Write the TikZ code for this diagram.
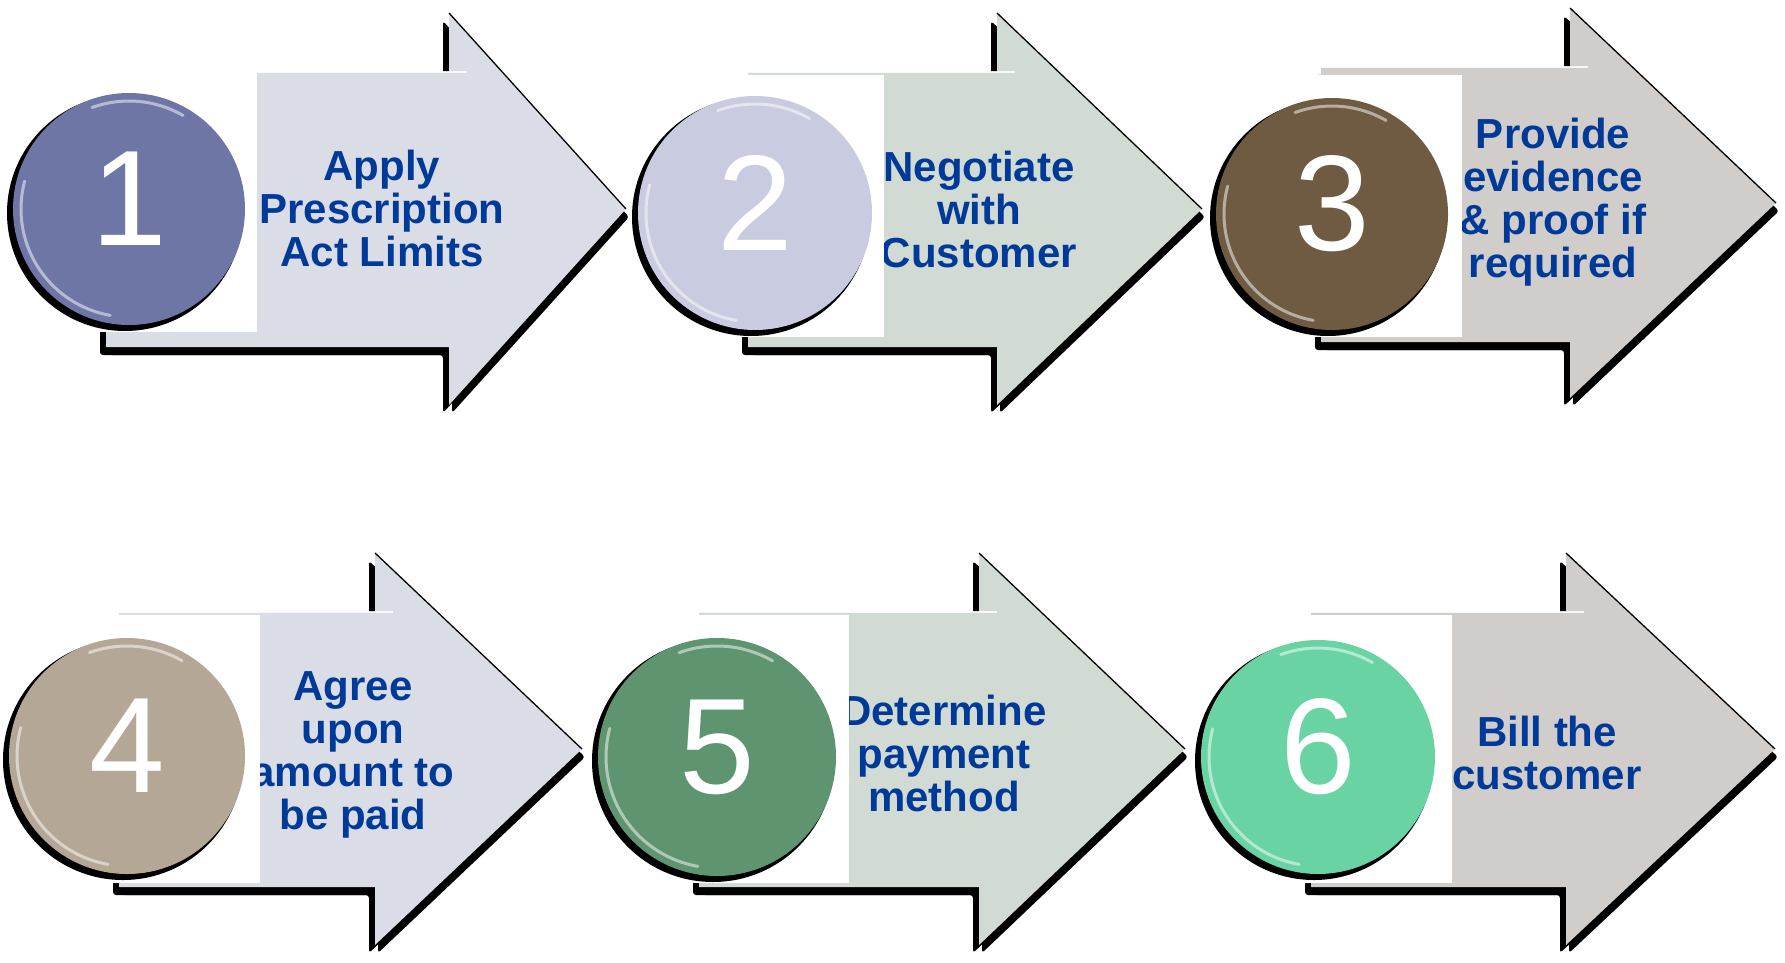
\documentclass[tikz,border=0pt]{standalone}
\usepackage{fontspec}
\setmainfont{Liberation Sans}
\usetikzlibrary{calc}
\definecolor{txtblue}{RGB}{0,58,152}
\definecolor{faceA}{RGB}{218,221,230}
\definecolor{faceB}{RGB}{210,218,212}
\definecolor{faceC}{RGB}{208,205,203}
\definecolor{ballA}{RGB}{110,118,165}
\definecolor{ballB}{RGB}{201,203,224}
\definecolor{ballC}{RGB}{110,91,66}
\definecolor{ballD}{RGB}{181,167,150}
\definecolor{ballE}{RGB}{94,149,112}
\definecolor{ballF}{RGB}{105,211,164}
\tikzset{
  steptext/.style={font=\bfseries\fontsize{42}{43}\selectfont, text=txtblue, align=center, inner sep=0pt},
  digit/.style={font=\fontsize{136}{136}\selectfont, text=white, inner sep=0pt},
  ball/.style={circle, inner sep=0pt, draw=none},
  shade/.style={fill=black},
  toplight/.style={draw=white, line width=2.5pt, opacity=.85},
  diagline/.style={draw=black, line width=1.3pt},
  gloss/.style={draw=white, line width=3pt, opacity=.5, line cap=round},
}
% #1 L, #2 T, #3 B, #4 head x, #5 head top, #6 head bottom, #7 tip x, #8 tip y, #9 colour
\newcommand\chevronshape[9]{%
  \fill[shade, shift={(-6,8)}, rounded corners=3pt] (#1,#2) -- (#4,#2) -- (#4,#5) -- (#7,#8) -- (#4,#6) -- (#4,#3) -- (#1,#3) -- cycle;
  \fill[shade, shift={(3,8)}, rounded corners=3pt] (#1,#2) -- (#4,#2) -- (#4,#5) -- (#7,#8) -- (#4,#6) -- (#4,#3) -- (#1,#3) -- cycle;
  \fill[#9] (#1,#2) -- (#4,#2) -- (#4,#5) -- (#7,#8) -- (#4,#6) -- (#4,#3) -- (#1,#3) -- cycle;
  \draw[diagline] (#4,#5) -- (#7,#8);
  \draw[toplight] (#1,#2) -- (#4+18,#2);
}
% #1 centre name, #2 radius, #3 colour, #4 digit, #5 node name
\newcommand\ballshape[5]{%
  \fill[black] ($(#1)+(-4,4)$) circle (#2+2);
  \node[ball, minimum size=2*#2 pt, fill=#3] (#5) at (#1) {};
  \draw[gloss] ($(#1)+(100:#2-8)$) arc[start angle=100, end angle=195, radius=#2-8];
  \draw[gloss] ($(#1)+(250:#2-8)$) arc[start angle=250, end angle=300, radius=#2-8];
  \node[digit] (#5d) at ($(#5.center)+(0,-10)$) {#4};
}
\begin{document}
\begin{tikzpicture}[x=1pt,y=-1pt]
\useasboundingbox[fill=white] (0,0) rectangle (1785,963);

% ---------- step 1 ----------
\chevronshape{106}{72}{347}{449}{13}{405}{626}{209}{faceA}
\node[steptext] (t1) at (382,208) {Apply\\Prescription\\Act Limits};
\fill[white] (97,72) rectangle (257,332);
\coordinate (p1) at (129,209);
\ballshape{p1}{116}{ballA}{1}{c1}

% ---------- step 2 ----------
\chevronshape{748}{72}{347}{997}{13}{405}{1202}{209}{faceB}
\node[steptext] (t2) at (979,209) {Negotiate\\with\\Customer};
\fill[white] (739,75) rectangle (884,337);
\coordinate (p2) at (755,213);
\ballshape{p2}{117}{ballB}{2}{c2}

% ---------- step 3 ----------
\chevronshape{1321}{67}{342}{1570}{8}{398}{1776}{203}{faceC}
\node[steptext] (t3) at (1553,202) {Provide\\evidence\\\& proof if\\required};
\fill[white] (1312,75) rectangle (1462,337);
\coordinate (p3) at (1332,214);
\ballshape{p3}{116}{ballC}{3}{c3}

% ---------- step 4 ----------
\chevronshape{119}{612}{887}{375}{553}{945}{582}{749}{faceA}
\node[steptext] (t4) at (353,755) {Agree\\upon\\amount to\\be paid};
\fill[white] (110,615) rectangle (260,883);
\coordinate (p4) at (127,756);
\ballshape{p4}{118}{ballD}{4}{c4}

% ---------- step 5 ----------
\chevronshape{699}{612}{887}{979}{553}{945}{1185}{749}{faceB}
\node[steptext] (t5) at (944,753) {Determine\\payment\\method};
\fill[white] (690,615) rectangle (849,883);
\coordinate (p5) at (717,757);
\ballshape{p5}{119}{ballE}{5}{c5}

% ---------- step 6 ----------
\chevronshape{1311}{612}{887}{1566}{553}{945}{1775}{749}{faceC}
\node[steptext] (t6) at (1547,753) {Bill the\\customer};
\fill[white] (1302,615) rectangle (1452,883);
\coordinate (p6) at (1318,757);
\ballshape{p6}{117}{ballF}{6}{c6}
\end{tikzpicture}
\end{document}
